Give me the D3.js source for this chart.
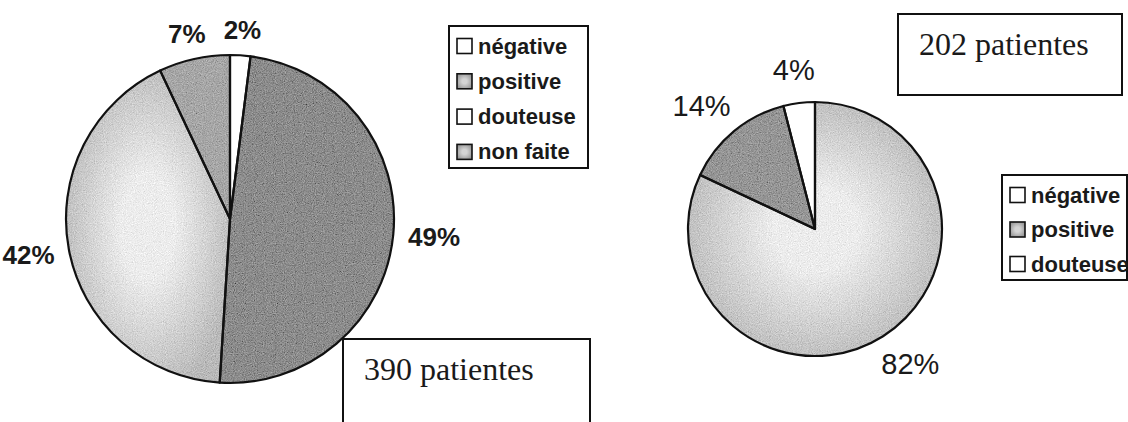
<!DOCTYPE html>
<html>
<head>
<meta charset="utf-8">
<script src="https://cdn.jsdelivr.net/npm/d3@7"></script>
<style>
  html, body { margin: 0; padding: 0; background: #fff; }
  svg { display: block; }
</style>
</head>
<body>
<svg id="chart" width="1128" height="422"></svg>
<script>
// Résultats par groupe de patientes
const categoriesLeft = ["négative", "positive", "douteuse", "non faite"];
const valuesLeft = [2, 49, 42, 7];
const patientsLeft = 390;

const categoriesRight = ["négative", "positive", "douteuse"];
const valuesRight = [82, 14, 4];
const patientsRight = 202;

const svg = d3.select("#chart");
const defs = svg.append("defs");

// grain texture for the shaded slices
const grain = defs.append("filter").attr("id", "grain")
  .attr("x", "-5%").attr("y", "-5%").attr("width", "110%").attr("height", "110%");
grain.append("feTurbulence").attr("type", "fractalNoise")
  .attr("baseFrequency", 0.9).attr("numOctaves", 2).attr("seed", 7).attr("result", "noise");
grain.append("feColorMatrix").attr("in", "noise").attr("type", "matrix")
  .attr("values", "0.34 0.33 0.33 0 0  0.34 0.33 0.33 0 0  0.34 0.33 0.33 0 0  0 0 0 0 1")
  .attr("result", "gray");
grain.append("feComposite").attr("in", "SourceGraphic").attr("in2", "gray")
  .attr("operator", "arithmetic").attr("k1", 0).attr("k2", 1).attr("k3", 0.8).attr("k4", -0.4)
  .attr("result", "mix");
grain.append("feComposite").attr("in", "mix").attr("in2", "SourceGraphic").attr("operator", "in");

// light slice: bright centre fading to grey
function centreGradient(id, inner, outer) {
  const g = defs.append("radialGradient").attr("id", id)
    .attr("cx", "50%").attr("cy", "50%").attr("r", "55%");
  g.append("stop").attr("offset", "0%").attr("stop-color", inner);
  g.append("stop").attr("offset", "30%").attr("stop-color", inner);
  g.append("stop").attr("offset", "100%").attr("stop-color", outer);
}
centreGradient("lightFill", "#ececec", "#b9b9b9");
centreGradient("swatchFill", "#d4d4d4", "#9a9a9a");

const fillLeft = d3.scaleOrdinal().domain(categoriesLeft)
  .range(["#ffffff", "#8b8b8b", "url(#lightFill)", "#a6a6a6"]);
const fillRight = d3.scaleOrdinal().domain(categoriesRight)
  .range(["url(#lightFill)", "#959595", "#ffffff"]);

const swatchLeft = d3.scaleOrdinal().domain(categoriesLeft)
  .range(["#ffffff", "url(#swatchFill)", "#ffffff", "url(#swatchFill)"]);
const swatchRight = d3.scaleOrdinal().domain(categoriesRight)
  .range(["#ffffff", "url(#swatchFill)", "#ffffff"]);

function drawPie(opts) {
  const data = opts.categories.map((c, i) => ({ cat: c, value: opts.values[i] }));
  const arcs = d3.pie().sort(null).value(d => d.value)(data);
  const arc = d3.arc().innerRadius(0).outerRadius(opts.r);
  const g = svg.append("g").attr("transform", `translate(${opts.cx},${opts.cy})`);

  g.selectAll("path.fill").data(arcs).join("path")
    .attr("class", "fill")
    .attr("d", arc)
    .attr("fill", d => opts.fill(d.data.cat))
    .attr("filter", d => opts.fill(d.data.cat) === "#ffffff" ? null : "url(#grain)");

  g.selectAll("path.edge").data(arcs).join("path")
    .attr("class", "edge")
    .attr("d", arc)
    .attr("fill", "none")
    .attr("stroke", "#111")
    .attr("stroke-width", 2.2)
    .attr("stroke-linejoin", "round");

  // percentage labels placed just outside each slice
  const labels = g.selectAll("text.pct").data(arcs).join("text")
    .attr("class", "pct")
    .attr("font-family", "Liberation Sans, Arial, sans-serif")
    .attr("font-size", opts.labelSize)
    .attr("font-weight", opts.labelWeight)
    .attr("fill", "#1a1a1a")
    .attr("text-anchor", "middle")
    .attr("dominant-baseline", "central")
    .text(d => d.data.value + "%");

  labels.each(function (d) {
    const a = (d.startAngle + d.endAngle) / 2;
    const dx = Math.sin(a), dy = -Math.cos(a);
    const bb = this.getBBox();
    const R = opts.r + opts.labelPad;
    const x = dx * R + dx * bb.width / 2;
    const y = dy * R + dy * (bb.height * 0.7) / 2;
    d3.select(this).attr("x", x).attr("y", y);
  });
}

function drawLegend(opts) {
  const g = svg.append("g").attr("transform", `translate(${opts.x},${opts.y})`);
  g.append("rect")
    .attr("width", opts.w).attr("height", opts.h)
    .attr("fill", "#fff").attr("stroke", "#111").attr("stroke-width", 2);
  const row = g.selectAll("g.row").data(opts.categories).join("g")
    .attr("class", "row")
    .attr("transform", (d, i) => `translate(8,${opts.first + i * opts.step})`);
  row.append("rect")
    .attr("x", 0).attr("y", -7.5).attr("width", 15).attr("height", 15)
    .attr("fill", d => opts.swatch(d))
    .attr("stroke", "#111").attr("stroke-width", 1.6);
  row.append("text")
    .attr("x", 21).attr("y", 0)
    .attr("dominant-baseline", "central")
    .attr("font-family", "Liberation Sans, Arial, sans-serif")
    .attr("font-weight", "bold")
    .attr("font-size", 22)
    .attr("fill", "#1a1a1a")
    .text(d => d);
}

function drawCount(opts) {
  const g = svg.append("g").attr("transform", `translate(${opts.x},${opts.y})`);
  g.append("rect")
    .attr("width", opts.w).attr("height", opts.h)
    .attr("fill", "#fff").attr("stroke", "#111").attr("stroke-width", 2);
  g.append("text")
    .attr("x", 21).attr("y", opts.baseline)
    .attr("font-family", "Liberation Serif, Times New Roman, serif")
    .attr("font-size", 32)
    .attr("fill", "#1a1a1a")
    .text(opts.n + " patientes");
}

// left group
drawPie({ categories: categoriesLeft, values: valuesLeft, fill: fillLeft,
  cx: 230, cy: 219, r: 164, labelPad: 15, labelSize: 26, labelWeight: "bold" });
drawLegend({ categories: categoriesLeft, swatch: swatchLeft,
  x: 449, y: 26, w: 139, h: 142, first: 20, step: 35.3 });
drawCount({ n: patientsLeft, x: 343, y: 339, w: 247, h: 100, baseline: 41 });

// right group
drawPie({ categories: categoriesRight, values: valuesRight, fill: fillRight,
  cx: 815, cy: 229, r: 127, labelPad: 22, labelSize: 29, labelWeight: "normal" });
drawLegend({ categories: categoriesRight, swatch: swatchRight,
  x: 1002, y: 175, w: 125, h: 105, first: 20, step: 34.5 });
drawCount({ n: patientsRight, x: 898, y: 14, w: 224, h: 81, baseline: 41 });
</script>
</body>
</html>
